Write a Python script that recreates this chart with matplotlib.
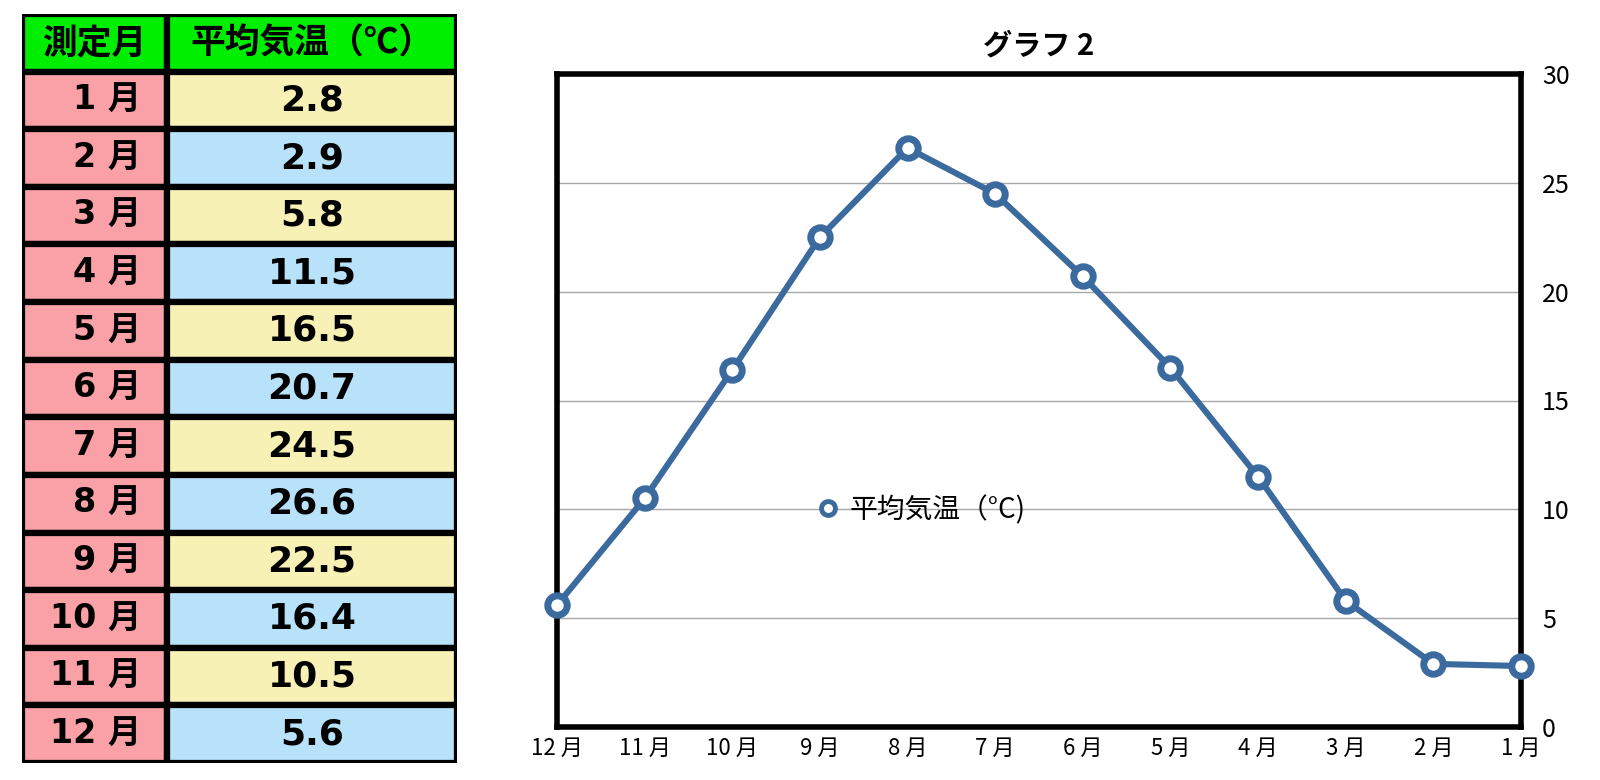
import matplotlib
matplotlib.use("Agg")
import matplotlib.pyplot as plt
from matplotlib.patches import Rectangle
from matplotlib.lines import Line2D

plt.rcParams['font.family'] = ['Noto Sans CJK JP', 'DejaVu Sans']

# ---- data ----
months = ["1 月", "2 月", "3 月", "4 月", "5 月", "6 月", "7 月", "8 月", "9 月", "10 月", "11 月", "12 月"]
table_months = ["1 月", "2 月", "3 月", "4 月", "5 月", "6 月", "7 月", "8 月", "9 月", "10 月", "11 月", "12 月"]
temps = [2.8, 2.9, 5.8, 11.5, 16.5, 20.7, 24.5, 26.6, 22.5, 16.4, 10.5, 5.6]
header = ["測定月", "平均気温（℃）"]
series_label = "平均気温（°C)"
title = "グラフ 2"
yticks = [0, 5, 10, 15, 20, 25, 30]

W, H = 1600, 780
fig = plt.figure(figsize=(16, 7.8), dpi=100)

table_font = ['DejaVu Sans', 'Noto Sans CJK JP']
header_font = ['Noto Sans CJK JP', 'DejaVu Sans']

# ---- table (left) ----
tx0, tx1, ty0, ty1 = 22, 457, 14, 763
tax = fig.add_axes([tx0 / W, 1 - ty1 / H, (tx1 - tx0) / W, (ty1 - ty0) / H])
tax.set_xlim(tx0, tx1)
tax.set_ylim(ty1, ty0)
tax.axis('off')
colx = 167
nrows = len(temps) + 1
rh = (ty1 - ty0) / nrows
green = "#00EE00"
pink = "#F9A1A6"
yellow = "#F7F1B6"
blue = "#B7E2FA"
lw_border = 4.5
for r in range(nrows):
    y0 = ty0 + r * rh
    if r == 0:
        c1 = c2 = green
    else:
        c1 = pink
        c2 = yellow if (r % 2 == 1) else blue
    tax.add_patch(Rectangle((tx0, y0), colx - tx0, rh, facecolor=c1, edgecolor='black', lw=lw_border))
    tax.add_patch(Rectangle((colx, y0), tx1 - colx, rh, facecolor=c2, edgecolor='black', lw=lw_border))
    yc = y0 + rh / 2
    if r == 0:
        tax.text((tx0 + colx) / 2, yc, header[0], ha='center', va='center', fontsize=25,
                 fontweight='bold', family=header_font)
        tax.text((colx + tx1) / 2, yc, header[1], ha='center', va='center', fontsize=25,
                 fontweight='bold', family=header_font)
    else:
        tax.text(141, yc, table_months[r - 1], ha='right', va='center', fontsize=24,
                 fontweight='bold', family=table_font)
        tax.text((colx + tx1) / 2, yc, f"{temps[r - 1]:.1f}", ha='center', va='center',
                 fontsize=26, fontweight='bold', family=table_font)

# ---- chart (right) ----
ax0, ax1, ay0, ay1 = 557, 1521, 74, 727
ax = fig.add_axes([ax0 / W, 1 - ay1 / H, (ax1 - ax0) / W, (ay1 - ay0) / H])
x = list(range(len(months)))
line_color = "#3A6A9E"
ax.plot(x, temps, color=line_color, lw=4.4, marker='o', markersize=14,
        markerfacecolor='white', markeredgecolor=line_color, markeredgewidth=5,
        clip_on=False, zorder=5)
ax.set_xlim(0, len(months) - 1)
ax.invert_xaxis()
ax.set_ylim(0, 30)
ax.set_yticks(yticks)
ax.set_xticks(x)
ax.set_xticklabels(months, fontsize=16)
ax.yaxis.tick_right()
ax.tick_params(axis='y', length=0, pad=15, labelsize=18)
ax.tick_params(axis='x', length=0, pad=7)
ax.grid(axis='y', color='#A8A8A8', lw=1)
ax.set_axisbelow(True)
for s in ax.spines.values():
    s.set_linewidth(4)
    s.set_color('black')
ax.set_title(title, fontsize=21, fontweight='bold', pad=14)

handle = Line2D([], [], linestyle='none', marker='o', markersize=10,
                markerfacecolor='white', markeredgecolor=line_color, markeredgewidth=3.5)
ax.legend([handle], [series_label], loc='center left',
          bbox_to_anchor=((800 - ax0) / (ax1 - ax0), 1 - (510 - ay0) / (ay1 - ay0)),
          frameon=False, fontsize=20, handletextpad=0.3, borderpad=0, handlelength=1.0)

fig.savefig("out.png", dpi=100)
